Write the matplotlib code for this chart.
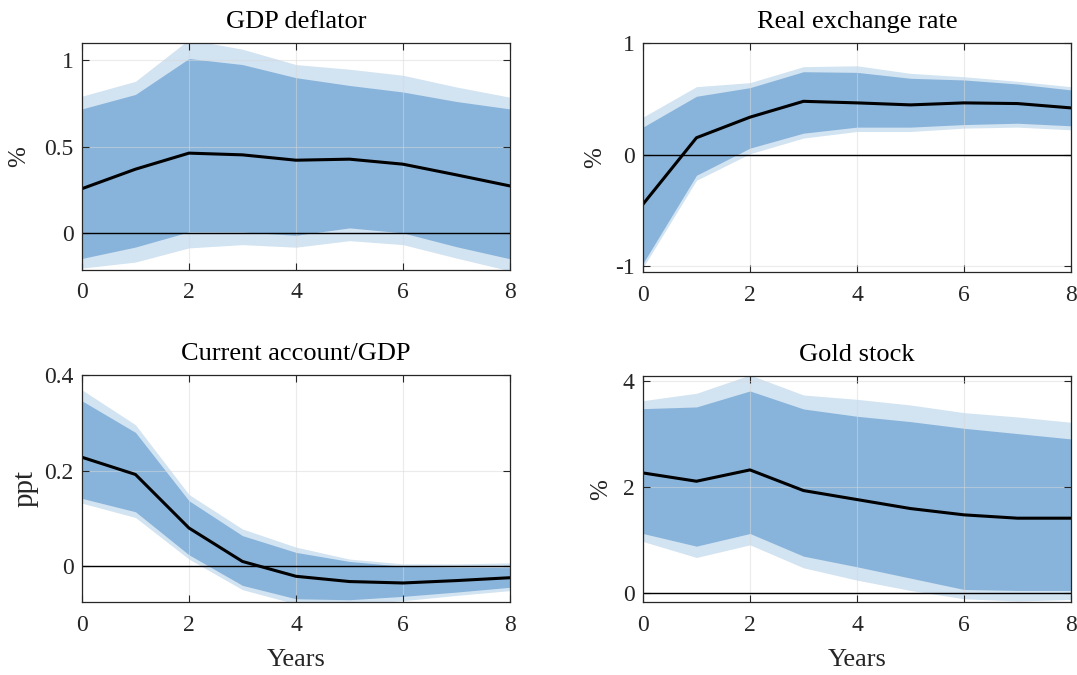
import matplotlib
matplotlib.use("Agg")
import matplotlib.pyplot as plt

years = [0, 1, 2, 3, 4, 5, 6, 7, 8]

# GDP deflator
gdp_med = [0.256, 0.369, 0.462, 0.452, 0.421, 0.427, 0.398, 0.336, 0.272]
gdp_hi68 = [0.718, 0.802, 1.01, 0.975, 0.899, 0.854, 0.816, 0.761, 0.718]
gdp_lo68 = [-0.148, -0.082, 0.006, 0.005, -0.014, 0.029, 0.0, -0.08, -0.15]
gdp_hi90 = [0.792, 0.878, 1.12, 1.064, 0.975, 0.948, 0.913, 0.845, 0.786]
gdp_lo90 = [-0.204, -0.169, -0.087, -0.068, -0.083, -0.045, -0.068, -0.146, -0.22]

# Real exchange rate
rer_med = [-0.443, 0.152, 0.336, 0.478, 0.464, 0.446, 0.464, 0.458, 0.419]
rer_hi68 = [0.247, 0.523, 0.600, 0.743, 0.737, 0.684, 0.669, 0.633, 0.580]
rer_lo68 = [-0.972, -0.184, 0.059, 0.193, 0.247, 0.247, 0.270, 0.282, 0.259]
rer_hi90 = [0.336, 0.609, 0.645, 0.788, 0.796, 0.728, 0.698, 0.657, 0.609]
rer_lo90 = [-1.01, -0.229, 0.009, 0.149, 0.208, 0.208, 0.238, 0.247, 0.223]

# Current account / GDP
ca_med = [0.228, 0.192, 0.080, 0.010, -0.021, -0.032, -0.035, -0.030, -0.024]
ca_hi68 = [0.346, 0.280, 0.137, 0.064, 0.029, 0.010, 0.0, -0.002, -0.003]
ca_lo68 = [0.142, 0.114, 0.024, -0.040, -0.068, -0.070, -0.063, -0.054, -0.044]
ca_hi90 = [0.369, 0.296, 0.150, 0.078, 0.040, 0.015, 0.005, 0.005, 0.007]
ca_lo90 = [0.132, 0.102, 0.015, -0.049, -0.079, -0.080, -0.072, -0.061, -0.051]

# Gold stock
gold_med = [2.27, 2.113, 2.327, 1.937, 1.767, 1.597, 1.478, 1.415, 1.415]
gold_hi68 = [3.484, 3.516, 3.818, 3.478, 3.340, 3.239, 3.113, 3.013, 2.912]
gold_lo68 = [1.126, 0.887, 1.126, 0.698, 0.497, 0.283, 0.069, 0.05, 0.05]
gold_hi90 = [3.635, 3.774, 4.12, 3.742, 3.660, 3.553, 3.409, 3.327, 3.226]
gold_lo90 = [0.975, 0.673, 0.912, 0.478, 0.245, 0.05, -0.107, -0.15, -0.12]

plt.rcParams["font.family"] = ["Liberation Serif", "DejaVu Serif"]

panels = [
    ("GDP deflator", "%", gdp_med, gdp_lo68, gdp_hi68, gdp_lo90, gdp_hi90,
     (-0.215, 1.1), [0, 0.5, 1], ["0", "0.5", "1"]),
    ("Real exchange rate", "%", rer_med, rer_lo68, rer_hi68, rer_lo90, rer_hi90,
     (-1.05, 1.0), [-1, 0, 1], ["-1", "0", "1"]),
    ("Current account/GDP", "ppt", ca_med, ca_lo68, ca_hi68, ca_lo90, ca_hi90,
     (-0.075, 0.4), [0, 0.2, 0.4], ["0", "0.2", "0.4"]),
    ("Gold stock", "%", gold_med, gold_lo68, gold_hi68, gold_lo90, gold_hi90,
     (-0.17, 4.1), [0, 2, 4], ["0", "2", "4"]),
]

# axes rectangles in figure fractions (left, bottom, width, height)
rects = [
    (0.0761, 0.600, 0.3974, 0.3363),
    (0.5970, 0.597, 0.3974, 0.3393),
    (0.0761, 0.108, 0.3974, 0.3364),
    (0.5970, 0.108, 0.3974, 0.3349),
]
ylabel_pads = [10, 6, 4, 8]

dark = "#88b3da"
light = "#d2e3f1"
edge = "#262626"

fig = plt.figure(figsize=(10.77, 6.75), dpi=100)

for i, (title, ylab, med, lo68, hi68, lo90, hi90, ylim, yt, ytl) in enumerate(panels):
    ax = fig.add_axes(rects[i])
    ax.fill_between(years, lo90, hi90, color=light, lw=0, zorder=1)
    ax.fill_between(years, lo68, hi68, color=dark, lw=0, zorder=2)
    ax.axhline(0, color="black", lw=1.0, zorder=3)
    ax.plot(years, med, color="black", lw=2.2, zorder=4)

    ax.set_xlim(0, 8)
    ax.set_ylim(*ylim)
    ax.set_xticks([0, 2, 4, 6, 8])
    ax.set_yticks(yt)
    ax.set_yticklabels(ytl)
    ax.grid(True, color="#d9d9d9", lw=0.8, zorder=0)
    ax.set_axisbelow(False)
    for gl in ax.get_xgridlines() + ax.get_ygridlines():
        gl.set_zorder(2.5)
        gl.set_alpha(0.5)

    ax.tick_params(direction="in", top=True, right=True, length=5,
                   width=0.8, color=edge, labelcolor=edge, labelsize=17)
    ax.tick_params(axis="x", pad=9)
    ax.tick_params(axis="y", pad=6)
    for sp in ax.spines.values():
        sp.set_color(edge)
        sp.set_linewidth(0.9)
        sp.set_zorder(5)

    ax.set_title(title, fontsize=19, color="black", pad=11)
    ax.set_ylabel(ylab, fontsize=21 if ylab == "ppt" else 18, color=edge,
                  labelpad=ylabel_pads[i])
    if i >= 2:
        ax.set_xlabel("Years", fontsize=19, color=edge, labelpad=10)

fig.savefig("out.png", dpi=100)
